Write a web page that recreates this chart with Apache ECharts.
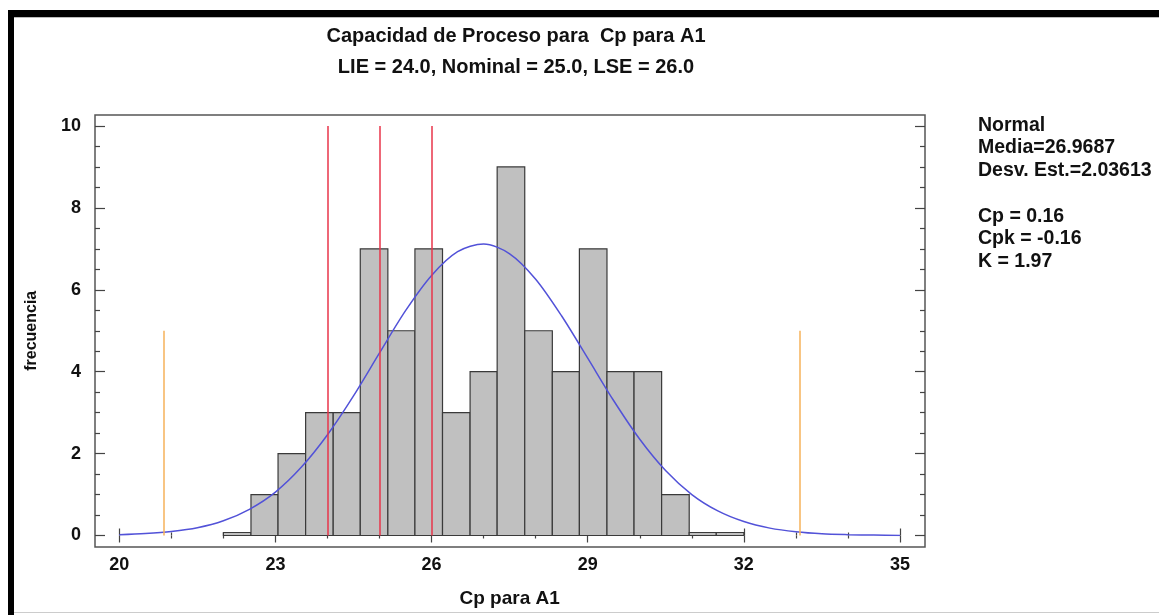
<!DOCTYPE html>
<html>
<head>
<meta charset="utf-8">
<script src="https://cdn.jsdelivr.net/npm/echarts@6/dist/echarts.min.js"></script>
<style>
  html, body { margin: 0; padding: 0; background: #fff; }
  #chart { position: absolute; left: 0; top: 0; width: 1159px; height: 615px; }
  .edge-top { position: absolute; left: 8px; top: 10px; width: 1151px; height: 7px; background: #000; border-bottom: 1px solid #bbb; }
  .edge-left { position: absolute; left: 8px; top: 10px; width: 6px; height: 605px; background: #000; }
  .edge-bottom { position: absolute; left: 14px; top: 612px; width: 1145px; height: 1px; background: #ccc; }
</style>
</head>
<body>
<div id="chart"></div>
<div class="edge-top"></div>
<div class="edge-left"></div>
<div class="edge-bottom"></div>
<script>
// histogram bins (Cp para A1)
var binEdges = [22.00, 22.53, 23.05, 23.58, 24.11, 24.63, 25.16, 25.68, 26.21, 26.74,
                27.26, 27.79, 28.32, 28.84, 29.37, 29.89, 30.42, 30.95, 31.47, 32.00];
var binCounts = [0, 1, 2, 3, 3, 7, 5, 7, 3, 4, 9, 5, 4, 7, 4, 4, 1, 0, 0];

// fitted normal curve
var curveX = [20, 20.5, 21, 21.5, 22, 22.5, 23, 23.5, 24, 24.5, 25, 25.5, 26, 26.5, 27,
              27.5, 28, 28.5, 29, 29.5, 30, 30.5, 31, 31.5, 32, 32.5, 33, 33.5, 34, 34.5, 35];
var curveY = [0.02, 0.05, 0.10, 0.19, 0.36, 0.64, 1.06, 1.67, 2.46, 3.41, 4.46, 5.49, 6.35, 6.93, 7.12,
              6.88, 6.26, 5.36, 4.33, 3.29, 2.35, 1.58, 1.00, 0.60, 0.34, 0.18, 0.09, 0.04, 0.02, 0.01, 0.00];

// LIE, Nominal, LSE and the +-3 sigma lines
var specLimits = [24, 25, 26];
var specTop = 10;
var sigmaLimits = [20.86, 33.08];
var sigmaTop = 5;

var xTicks = [20, 35, 3];   // min, max, step
var yTicks = [0, 10, 2];

var mediaVal = '26.9687';
var desvVal = '2.03613';
var statLines = ['Cp = 0.16', 'Cpk = -0.16', 'K = 1.97'];

var FONT = '"Liberation Sans", Arial, sans-serif';

var chart = echarts.init(document.getElementById('chart'), null, {renderer: 'canvas'});

var histData = binCounts.map(function (c, i) {
  return [binEdges[i], binEdges[i + 1], c];
});
var curveData = curveX.map(function (x, i) { return [x, curveY[i]]; });

var markData = [];
specLimits.forEach(function (v) {
  markData.push([{coord: [v, 0], lineStyle: {color: '#e8344a', width: 1.5, type: 'solid'}}, {coord: [v, specTop]}]);
});
sigmaLimits.forEach(function (v) {
  markData.push([{coord: [v, 0], lineStyle: {color: '#f6b25a', width: 1.5, type: 'solid'}}, {coord: [v, sigmaTop]}]);
});

function xAxisCfg(pos, offset, showLabel) {
  return {
    type: 'value', gridIndex: 0, position: pos, offset: offset,
    min: xTicks[0], max: xTicks[1], interval: xTicks[2],
    axisLine: {show: false},
    axisTick: {show: true, inside: true, length: 7, lineStyle: {color: '#444', width: 1.2}},
    minorTick: {show: true, splitNumber: 3, length: 3, lineStyle: {color: '#444', width: 1.2}},
    splitLine: {show: false},
    axisLabel: {show: showLabel, margin: 9, color: '#111', fontSize: 18, fontWeight: 'bold', fontFamily: FONT}
  };
}
function yAxisCfg(pos, offset, showLabel) {
  return {
    type: 'value', gridIndex: 0, position: pos, offset: offset,
    min: yTicks[0], max: yTicks[1], interval: yTicks[2],
    axisLine: {show: false},
    axisTick: {show: true, inside: true, length: 10, lineStyle: {color: '#444', width: 1.2}},
    minorTick: {show: true, splitNumber: 4, length: 5, lineStyle: {color: '#444', width: 1.2}},
    splitLine: {show: false},
    axisLabel: {show: showLabel, margin: 14, color: '#111', fontSize: 18, fontWeight: 'bold', fontFamily: FONT}
  };
}

var xBottom = xAxisCfg('bottom', 11.5, true);
xBottom.name = 'Cp para A1';
xBottom.nameLocation = 'middle';
xBottom.nameGap = 42;
xBottom.nameTextStyle = {color: '#111', fontSize: 19, fontWeight: 'bold', fontFamily: FONT};

var yLeft = yAxisCfg('left', 24.3, true);
yLeft.name = 'frecuencia';
yLeft.nameLocation = 'middle';
yLeft.nameGap = 55;
yLeft.nameTextStyle = {color: '#111', fontSize: 16, fontWeight: 'bold', fontFamily: FONT};

chart.setOption({
  animation: false,
  backgroundColor: 'transparent',
  title: [{
    text: 'Capacidad de Proceso para  Cp para A1',
    subtext: 'LIE = 24.0, Nominal = 25.0, LSE = 26.0',
    left: 511, top: 20, textAlign: 'center', itemGap: 9,
    textStyle: {color: '#111', fontSize: 20, fontWeight: 'bold', fontFamily: FONT, lineHeight: 22},
    subtextStyle: {color: '#111', fontSize: 20, fontWeight: 'bold', fontFamily: FONT, lineHeight: 22}
  }, {
    text: ['Normal', 'Media=' + mediaVal, 'Desv. Est.=' + desvVal, ''].concat(statLines).join('\n'),
    left: 978, top: 114,
    padding: 0,
    textStyle: {color: '#111', fontSize: 19.5, fontWeight: 'bold', fontFamily: FONT, lineHeight: 22.7}
  }],
  grid: [
    // data area
    {left: 119.3, right: 259, top: 126, bottom: 79.5, outerBoundsMode: 'none'},
    // outer frame
    {left: 95, right: 234, top: 115, bottom: 68, show: true, borderColor: '#555', borderWidth: 1.5,
     backgroundColor: 'transparent', outerBoundsMode: 'none'}
  ],
  xAxis: [
    xBottom,
    xAxisCfg('top', 11, false),
    {type: 'value', gridIndex: 1, show: false, min: 0, max: 1}
  ],
  yAxis: [
    yLeft,
    yAxisCfg('right', 25, false),
    {type: 'value', gridIndex: 1, show: false, min: 0, max: 1}
  ],
  series: [{
    name: 'histograma',
    type: 'custom',
    xAxisIndex: 0, yAxisIndex: 0,
    silent: true,
    renderItem: function (params, api) {
      var p0 = api.coord([api.value(0), 0]);
      var p1 = api.coord([api.value(1), api.value(2)]);
      var h = p0[1] - p1[1];
      if (h < 3) h = 3;
      return {
        type: 'rect',
        shape: {x: p0[0], y: p0[1] - h, width: p1[0] - p0[0], height: h},
        style: {fill: '#c0c0c0', stroke: '#3a3a3a', lineWidth: 1.2}
      };
    },
    encode: {x: [0, 1], y: 2},
    data: histData,
    z: 1
  }, {
    name: 'Normal',
    type: 'line',
    xAxisIndex: 0, yAxisIndex: 0,
    smooth: 0.3,
    showSymbol: false,
    silent: true,
    lineStyle: {color: '#5252d8', width: 1.5},
    data: curveData,
    z: 3,
    markLine: {
      silent: true,
      symbol: ['none', 'none'],
      label: {show: false},
      lineStyle: {type: 'solid'},
      data: markData
    }
  }]
});
</script>
</body>
</html>
